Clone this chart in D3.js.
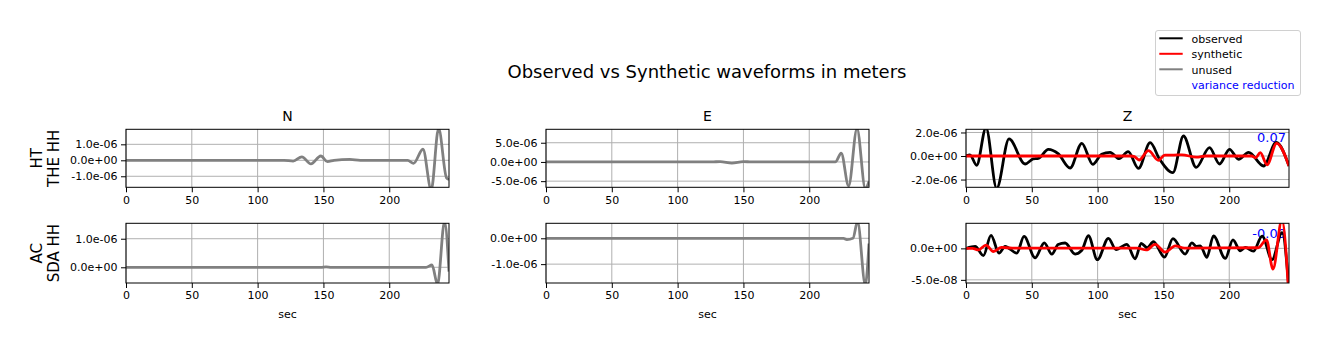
<!DOCTYPE html>
<html>
<head>
<meta charset="utf-8">
<script src="https://cdn.jsdelivr.net/npm/d3@7"></script>
<style>
  body { margin: 0; background: #fff; }
  svg { display: block; font-family: "DejaVu Sans", sans-serif; }
</style>
</head>
<body>
<div id="chart"></div>
<script>
// time axis (sec)
const timeDomain = [0, 245.4];
const timeTicks = [0, 50, 100, 150, 200];

const components = ["N", "E", "Z"];
const stations = [["HT", "THE HH"], ["AC", "SDA HH"]];

// y limits and ticks, [row][col]
const yDomains = [
    [[-1.69e-6, 1.94e-6], [-6.6e-6, 8.5e-6], [-2.66e-6, 2.27e-6]],
    [[-0.55e-6, 1.54e-6], [-1.73e-6, 0.58e-6], [-5.5e-8, 3.98e-8]]
];
const yTicks = [
    [[-1e-6, 0, 1e-6], [-5e-6, 0, 5e-6], [-2e-6, 0, 2e-6]],
    [[0, 1e-6], [-1e-6, 0], [-5e-8, 0]]
];

// waveforms as [sec, meters]
const unusedHT_N = [[0,0],[120,0],[127,-0.05e-6],[133.6,0.22e-6],[140.5,-0.23e-6],[148,0.27e-6],[153,-0.08e-6],[158,0],[170,0.06e-6],[178,0],
    [214,0],[218.5,-0.19e-6],[225.6,0.69e-6],[231.9,-1.85e-6],[237.5,2.0e-6],[243.5,-1.1e-6],[245.4,-1.2e-6]];
const unusedHT_E = [[0,0],[126,0],[132.3,0.1e-6],[141.2,-0.3e-6],[150,0.1e-6],[156,0],[219.8,0],[224.3,2.26e-6],[229.9,-6.25e-6],
    [236.3,8.7e-6],[242.6,-6.9e-6],[245.4,-5.1e-6]];
const unusedAC_N = [[0,0],[148,0],[152,0.015e-6],[156,0],[228,0],[232.5,0.08e-6],[236.7,-0.6e-6],[242,1.6e-6],[245.4,-0.15e-6]];
const unusedAC_E = [[0,0],[226,0],[228.6,-0.05e-6],[233.2,0],[236.7,0.65e-6],[242.6,-1.8e-6],[245.4,-0.2e-6]];

const observedHT_Z = [[0,0],[3,0.1e-6],[8.1,-0.79e-6],[15.2,2.4e-6],[23.3,-2.75e-6],[32.7,1.45e-6],[44.9,-0.68e-6],[51,-0.25e-6],[55,-0.2e-6],
    [62.6,0.57e-6],[70,0.2e-6],[79.1,-1.02e-6],[88,1.08e-6],[96.3,-0.71e-6],[103,0.15e-6],[109.5,0.31e-6],[116.3,-0.23e-6],[123.2,0.37e-6],
    [131,-1.05e-6],[139.9,1.13e-6],[147,-0.25e-6],[157.2,-1.42e-6],[165.2,1.7e-6],[174.9,-0.96e-6],[185,0.71e-6],[192.6,-0.68e-6],
    [200.2,0.57e-6],[207.1,-0.28e-6],[214.7,0.31e-6],[226.1,-0.85e-6],[235.7,1.16e-6],[245.4,-0.85e-6]];
const syntheticHT_Z = [[0,0],[125,0],[128,-0.05e-6],[131.5,-0.34e-6],[138.6,0.45e-6],[146.2,-0.36e-6],[151,0.08e-6],[158,0.08e-6],[164,0.1e-6],
    [175,-0.1e-6],[182,0],[217,0],[220,-0.15e-6],[223.6,0.28e-6],[228.7,-0.75e-6],[236,1.08e-6],[245.4,-0.85e-6]];

const observedAC_Z = [[0,0],[7,0.3e-8],[13.2,-1.15e-8],[19,2.05e-8],[25.1,-0.75e-8],[29.7,0.3e-8],[38.6,-0.75e-8],[44.1,1.9e-8],[52.5,-1.5e-8],
    [59.5,0.88e-8],[65.2,-0.93e-8],[70,0.6e-8],[75.3,0.85e-8],[82.9,-0.9e-8],[88,-0.3e-8],[93,2.0e-8],[99.8,-1.8e-8],[108.2,1.6e-8],
    [114,-0.2e-8],[122.2,0.64e-8],[128.5,-1.65e-8],[133.1,0.8e-8],[137.6,0.1e-8],[142.4,1.05e-8],[150.8,-1.4e-8],[157.2,1.55e-8],
    [166.5,-0.9e-8],[171.6,0.88e-8],[175,0.3e-8],[178,0.4e-8],[183,-1.42e-8],[188,1.98e-8],[197,-1.6e-8],[202.8,1.35e-8],
    [208.4,-0.38e-8],[212.3,0.15e-8],[218.3,-0.45e-8],[225,1.95e-8],[232.5,-1.8e-8],[240.1,2.5e-8],[245.4,-6.5e-8]];
const syntheticAC_Z = [[0,0],[5,0],[9.4,-0.25e-8],[15.2,0.5e-8],[20.8,-0.5e-8],[27,0.15e-8],[35,0.05e-8],[130,0.05e-8],[137,-0.25e-8],
    [143.7,0.64e-8],[151.3,-0.6e-8],[159,0.4e-8],[166,0.05e-8],[222,0.1e-8],[228.3,1.35e-8],[233.2,-3.3e-8],[240,4.5e-8],[245.4,-8e-8]];

const panelSeries = [
    [[{data: unusedHT_N, color: "#808080"}], [{data: unusedHT_E, color: "#808080"}],
     [{data: observedHT_Z, color: "#000000"}, {data: syntheticHT_Z, color: "#ff0000"}]],
    [[{data: unusedAC_N, color: "#808080"}], [{data: unusedAC_E, color: "#808080"}],
     [{data: observedAC_Z, color: "#000000"}, {data: syntheticAC_Z, color: "#ff0000"}]]
];
const varianceReduction = ["0.07", "-0.09"];

const legendLabels = ["observed", "synthetic", "unused", "variance reduction"];
const legendColors = ["#000000", "#ff0000", "#808080", null];

// layout
const width = 1329, height = 351;
const colLeft = [126, 546, 966];
const panelWidth = 323;
const rowTop = [129.3, 223.3];
const rowHeight = [58, 59.7];

const svg = d3.select("#chart").append("svg")
    .attr("width", width)
    .attr("height", height);

function sci(v) {
    return v.toExponential(1).replace(/e([+-])(\d)$/, (m, sg, d) => "e" + sg + "0" + d);
}

svg.append("text")
    .attr("x", 707)
    .attr("y", 78)
    .attr("text-anchor", "middle")
    .attr("font-size", 18)
    .text("Observed vs Synthetic waveforms in meters");

stations.forEach((st, r) => {
    // station label at the left
    let lab = svg.append("text")
	.attr("transform", `translate(0, ${rowTop[r] + rowHeight[r] / 2}) rotate(-90)`)
	.attr("text-anchor", "middle")
	.attr("font-size", 15);
    lab.append("tspan").attr("x", 0).attr("y", 42).text(st[0]);
    lab.append("tspan").attr("x", 0).attr("y", 59).text(st[1]);

    components.forEach((comp, c) => {
	let w = panelWidth, h = rowHeight[r];
	let g = svg.append("g")
	    .attr("transform", `translate(${colLeft[c]}, ${rowTop[r]})`);
	let x = d3.scaleLinear().domain(timeDomain).range([0, w]);
	let y = d3.scaleLinear().domain(yDomains[r][c]).range([h, 0]);

	let clipId = `clip-${r}-${c}`;
	g.append("clipPath").attr("id", clipId)
	    .append("rect").attr("width", w).attr("height", h);

	// grid
	g.append("g").selectAll("line")
	    .data(timeTicks)
	    .join("line")
	    .attr("x1", d => x(d)).attr("x2", d => x(d))
	    .attr("y1", 0).attr("y2", h)
	    .attr("stroke", "#b0b0b0").attr("stroke-width", 1);
	g.append("g").selectAll("line")
	    .data(yTicks[r][c])
	    .join("line")
	    .attr("x1", 0).attr("x2", w)
	    .attr("y1", d => y(d)).attr("y2", d => y(d))
	    .attr("stroke", "#b0b0b0").attr("stroke-width", 1);

	if (comp === "Z") {
	    g.append("text")
		.attr("x", w - 3).attr("y", r === 0 ? 12.9 : 14.5)
		.attr("text-anchor", "end")
		.attr("font-size", 13)
		.attr("fill", "#0000ff")
		.text(varianceReduction[r]);
	}

	let line = d3.line()
	    .x(d => x(d[0]))
	    .y(d => y(d[1]))
	    .curve(d3.curveMonotoneX);

	g.append("g")
	    .attr("clip-path", `url(#${clipId})`)
	    .selectAll("path")
	    .data(panelSeries[r][c])
	    .join("path")
	    .attr("d", d => line(d.data))
	    .attr("fill", "none")
	    .attr("stroke", d => d.color)
	    .attr("stroke-width", 2.8)
	    .attr("stroke-linejoin", "round");

	g.append("rect")
	    .attr("width", w).attr("height", h)
	    .attr("fill", "none").attr("stroke", "#000").attr("stroke-width", 1);

	let xAxis = g.append("g")
	    .attr("transform", `translate(0, ${h})`)
	    .call(d3.axisBottom(x).tickValues(timeTicks).tickSize(5).tickPadding(3.5).tickFormat(d3.format("d")));
	let yAxis = g.append("g")
	    .call(d3.axisLeft(y).tickValues(yTicks[r][c]).tickSize(5).tickPadding(3.5).tickFormat(sci));
	[xAxis, yAxis].forEach(a => {
	    a.select(".domain").remove();
	    a.attr("font-size", 11).attr("font-family", "DejaVu Sans, sans-serif");
	    a.selectAll("text").attr("fill", "#000");
	});

	if (r === 0) {
	    g.append("text")
		.attr("x", w / 2).attr("y", -8.6)
		.attr("text-anchor", "middle")
		.attr("font-size", 14)
		.text(comp);
	} else {
	    g.append("text")
		.attr("x", w / 2).attr("y", h + 35)
		.attr("text-anchor", "middle")
		.attr("font-size", 11)
		.text("sec");
	}
    });
});

// legend
let legend = svg.append("g").attr("class", "legend");
legend.append("rect")
    .attr("x", 1155.5).attr("y", 30.5)
    .attr("width", 145).attr("height", 65)
    .attr("rx", 2.5)
    .attr("fill", "#fff")
    .attr("stroke", "#d0d0d0");
let items = legend.selectAll(".legend-item")
    .data(legendLabels)
    .join("g")
    .attr("class", "legend-item")
    .attr("transform", (d, i) => `translate(0, ${38.3 + i * 15.5})`);
items.filter((d, i) => legendColors[i])
    .append("line")
    .attr("x1", 1159.3).attr("x2", 1182.7)
    .attr("stroke", (d, i) => legendColors[legendLabels.indexOf(d)])
    .attr("stroke-width", 2);
items.append("text")
    .attr("x", 1191.5).attr("y", 4.2)
    .attr("font-size", 11)
    .attr("fill", (d, i) => legendColors[i] ? "#000" : "#0000ff")
    .text(d => d);
</script>
</body>
</html>
